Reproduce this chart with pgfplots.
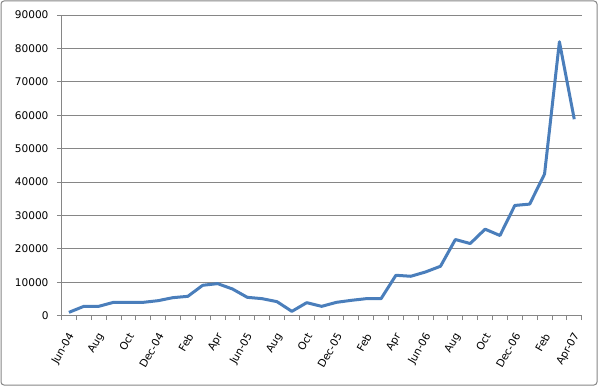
\documentclass[border=0pt]{standalone}
\usepackage{pgfplots}
\pgfplotsset{compat=1.18}
\usepackage{fontspec}
\setmainfont{DejaVu Sans}
\definecolor{excelblue}{HTML}{4A7EBB}
\definecolor{gridgray}{HTML}{868686}
\begin{document}
\begin{tikzpicture}
\useasboundingbox (0bp,0bp) rectangle (598bp,386bp);
\draw[gridgray, line width=1bp, rounded corners=3bp] (1bp,1bp) rectangle (597bp,385bp);
\begin{axis}[
  at={(61.5bp,70.3bp)}, anchor=south west,
  scale only axis, width=520.2bp, height=300.7bp,
  xmin=-0.5, xmax=34.5, ymin=0, ymax=90000,
  axis x line*=bottom, axis y line*=left,
  axis line style={gridgray, line width=0.9bp, -},
  ytick={0,10000,...,90000},
  scaled y ticks=false,
  ymajorgrids=true, major grid style={gridgray, line width=0.9bp},
  tick align=outside,
  major tick length=4.5bp,
  minor tick length=4.5bp,
  tick style={gridgray, line width=0.9bp},
  xtick={0,2,...,34},
  xticklabels={Jun-04,Aug,Oct,Dec-04,Feb,Apr,Jun-05,Aug,Oct,Dec-05,Feb,Apr,Jun-06,Aug,Oct,Dec-06,Feb,Apr-07},
  major x tick style={draw=none},
  minor xtick={-0.5,0.5,...,34.5},
  xticklabel style={xshift=4.5bp, yshift=-11bp, rotate=60, anchor=east, font=\fontsize{10.6}{12}\selectfont},
  yticklabel style={font=\fontsize{10.6}{12}\selectfont, xshift=-5bp},
  /pgf/number format/assume math mode=true,
  /pgf/number format/set thousands separator={},
  /pgf/number format/fixed,
  clip=false,
]
\addplot[excelblue, line width=3bp, line join=round, mark=none] coordinates {
(0,1000) (1,2800) (2,2800) (3,4000) (4,4000) (5,4000) (6,4500) (7,5400) (8,5800)
(9,9100) (10,9600) (11,8000) (12,5500) (13,5100) (14,4200) (15,1300) (16,3900)
(17,2800) (18,4000) (19,4600) (20,5100) (21,5100) (22,12100) (23,11800) (24,13100)
(25,14800) (26,22800) (27,21600) (28,25900) (29,24000) (30,33000) (31,33400)
(32,42400) (33,82000) (34,58800)
};
\end{axis}
\end{tikzpicture}
\end{document}
